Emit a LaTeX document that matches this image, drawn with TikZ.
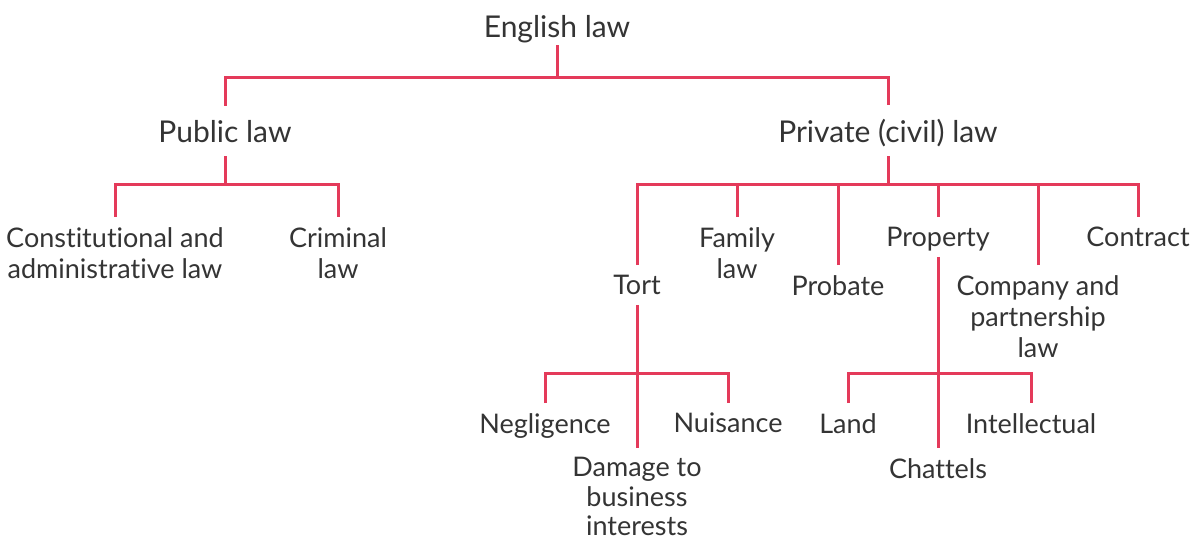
\documentclass[tikz,border=0pt]{standalone}
\usepackage{fontspec}
\setmainfont{Lato}[Ligatures={NoCommon}]
\definecolor{linkred}{RGB}{228,58,90}
\definecolor{textgray}{RGB}{52,52,52}
\begin{document}
\begin{tikzpicture}[x=1pt,y=-1pt,
  lbl/.style={font=\fontsize{27}{31}\selectfont, text=textgray, align=center,
              inner xsep=2pt, inner ysep=10pt, anchor=north},
  head/.style={lbl, font=\fontsize{30}{34}\selectfont, text depth=0pt, anchor=base},
  flat/.style={text depth=0pt},
  link/.style={draw=linkred, line width=3pt, line join=miter}]
\useasboundingbox (0,0) rectangle (1193,542);

% bus levels
\coordinate (bus0) at (0,77);
\coordinate (bus1) at (0,184);
\coordinate (bus2) at (0,373);

% top levels
\node[head, inner ysep=8pt] (eng) at (557,37) {English law};
\node[head, inner ysep=14pt] (pub) at (225,142) {Public law};
\node[head, inner ysep=14pt] (priv) at (888,142) {Private (civil) law};

% public law branches
\node[lbl] (const) at (115,217) {Constitutional and\\administrative law};
\node[lbl] (crim) at (338,217) {Criminal\\law};

% private law branches
\node[lbl, flat] (tort) at (637,265) {Tort};
\node[lbl] (fam) at (737,217) {Family\\law};
\node[lbl] (prob) at (838,265) {Probate};
\node[lbl, flat] (prop) at (938,217) {Property};
\node[lbl] (comp) at (1038,265) {Company and\\partnership\\law};
\node[lbl] (cont) at (1138,217) {Contract};

% tort branches
\node[lbl] (neg) at (545,403) {Negligence};
\node[lbl, font=\fontsize{27}{29.5}\selectfont, inner ysep=9pt] (dmg) at (637,448) {Damage to\\business\\interests};
\node[lbl] (nui) at (728,403) {Nuisance};

% property branches
\node[lbl] (land) at (848,403) {Land};
\node[lbl] (chat) at (938,448) {Chattels};
\node[lbl] (intel) at (1031,403) {Intellectual};

% connectors
\draw[link] (eng.south) -- (eng.south |- bus0) -| (pub.north);
\draw[link] (eng.south |- bus0) -| (priv.north);

\draw[link] (pub.south) -- (pub.south |- bus1) -| (const.north);
\draw[link] (pub.south |- bus1) -| (crim.north);

\draw[link] (priv.south) -- (priv.south |- bus1);
\draw[link] (tort.north) |- (priv.south |- bus1) -| (cont.north);
\foreach \n in {fam,prob,prop,comp}
  \draw[link] (\n.north) -- (\n.north |- bus1);

\draw[link] (tort.south) -- (dmg.north);
\draw[link] (neg.north) |- (tort.south |- bus2) -| (nui.north);

\draw[link] (prop.south) -- (chat.north);
\draw[link] (land.north) |- (prop.south |- bus2) -| (intel.north);
\end{tikzpicture}
\end{document}
